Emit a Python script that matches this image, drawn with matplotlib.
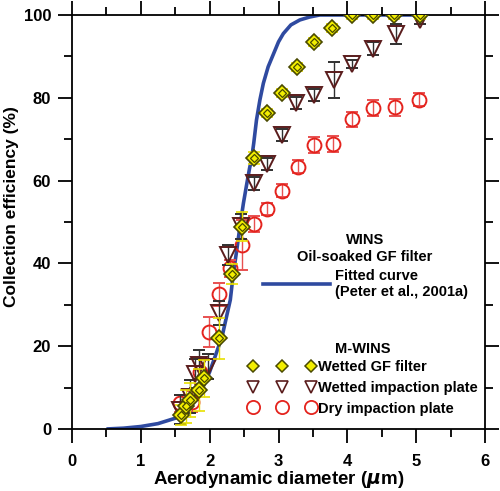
import matplotlib
matplotlib.use("Agg")
import matplotlib.pyplot as plt
from matplotlib.lines import Line2D

plt.rcParams['font.family'] = ['Liberation Sans', 'DejaVu Sans']
plt.rcParams['font.weight'] = 'bold'

# fitted curve, WINS oil-soaked GF filter
fit_x = [0.50, 0.75, 1.00, 1.25, 1.50, 1.70, 1.86, 2.00, 2.10, 2.18, 2.25, 2.30,
         2.34, 2.40, 2.44, 2.49, 2.54, 2.58, 2.61, 2.64, 2.68, 2.73, 2.78, 2.85,
         2.93, 3.00, 3.07, 3.18, 3.31, 3.45, 3.60, 4.00, 4.50, 5.00]
fit_y = [0.0, 0.2, 0.6, 1.3, 2.6, 5.0, 8.5, 13.8, 18.5, 22.3, 27.5, 31.2,
         37.0, 44.0, 48.9, 54.5, 59.3, 63.0, 65.4, 69.0, 74.6, 79.5, 83.5, 87.5,
         90.7, 93.5, 95.5, 97.6, 98.8, 99.5, 100.0, 100.0, 100.0, 100.0]

# M-WINS, wetted GF filter
gf_x = [1.59, 1.66, 1.72, 1.84, 1.92, 2.13, 2.32, 2.47, 2.64, 2.84, 3.05, 3.27,
        3.51, 3.78, 4.07, 4.38, 4.68, 5.05]
gf_y = [3.4, 5.5, 7.0, 9.4, 12.2, 21.9, 37.4, 48.9, 65.4, 76.3, 81.1, 87.5,
        93.5, 96.8, 100.0, 100.0, 100.0, 100.0]
gf_err = [2.5, 4.0, 4.0, 5.0, 4.5, 5.0, 2.5, 3.6, 1.5, 1.0, 1.0, 1.0,
          1.0, 1.0, 1.0, 1.0, 1.0, 1.0]

# M-WINS, wetted impaction plate
wi_x = [1.57, 1.72, 1.79, 1.85, 1.98, 2.13, 2.27, 2.45, 2.65, 2.83, 3.05, 3.26,
        3.51, 3.80, 4.07, 4.37, 4.71, 5.05]
wi_y = [4.6, 7.8, 13.4, 15.5, 15.0, 28.0, 42.0, 49.0, 59.3, 64.0, 71.0, 78.8,
        80.7, 84.3, 88.1, 91.9, 95.5, 98.8]
wi_err = [3.5, 4.0, 3.5, 3.5, 3.0, 3.0, 2.5, 3.0, 1.5, 1.5, 1.5, 1.5,
          1.5, 4.4, 1.0, 1.5, 2.4, 1.0]

# M-WINS, dry impaction plate
di_x = [1.57, 1.74, 1.86, 1.99, 2.13, 2.30, 2.47, 2.65, 2.84, 3.05, 3.28, 3.52,
        3.79, 4.07, 4.38, 4.69, 5.04]
di_y = [6.2, 6.6, 13.8, 23.5, 32.5, 38.8, 44.5, 49.5, 53.1, 57.6, 63.4, 68.6,
        68.8, 74.8, 77.5, 77.7, 79.5]
di_err = [2.0, 2.5, 3.0, 3.6, 2.8, 2.0, 6.0, 2.0, 1.5, 1.5, 1.5, 2.0,
          2.0, 1.8, 2.0, 2.0, 1.6]

blue = '#2f4aa0'
yellow = '#f2ee00'
olive = '#4a4a00'
maroon = '#5a1c1c'
red = '#e4231d'

fig = plt.figure(figsize=(5.0, 4.91), dpi=100)
ax = fig.add_axes([0.144, 0.1263, 0.826, 0.8432])

ax.plot(fit_x, fit_y, color=blue, lw=2.6, zorder=2, solid_capstyle='butt')

ax.errorbar(di_x, di_y, yerr=di_err, fmt='o', ms=10, mfc='none', mec=red, mew=1.4,
            ecolor='#e85050', elinewidth=1.0, capsize=4.5, capthick=1.0, zorder=3)
ax.errorbar(wi_x, wi_y, yerr=wi_err, fmt='v', ms=11, mfc='none', mec=maroon, mew=1.4,
            ecolor='#303030', elinewidth=1.0, capsize=4.5, capthick=1.0, zorder=4)
ax.errorbar(gf_x, gf_y, yerr=gf_err, fmt='D', ms=8.5, mfc=yellow, mec=olive, mew=1.2,
            ecolor='#e8e000', elinewidth=1.0, capsize=4.5, capthick=1.0, zorder=5)
ax.plot(gf_x, gf_y, 'D', ms=4.5, mfc=yellow, mec=olive, mew=0.9, zorder=6)

ax.set_xlim(0, 6)
ax.set_ylim(0, 100)
ax.set_xticks(range(0, 7))
ax.set_xticks([0.5 + i for i in range(6)], minor=True)
ax.set_yticks(range(0, 101, 20))
ax.set_yticks(range(10, 100, 20), minor=True)
ax.tick_params(which='both', direction='out', top=True, right=True, width=1.3,
               labelsize=12)
ax.tick_params(which='major', length=10)
ax.tick_params(which='minor', length=5.5)
ax.tick_params(axis='x', pad=8)
ax.tick_params(axis='y', pad=5)
for s in ax.spines.values():
    s.set_linewidth(1.3)
for lab in ax.get_xticklabels() + ax.get_yticklabels():
    lab.set_fontweight('bold')

ax.set_xlabel('Aerodynamic diameter ($\\mu$m)', fontsize=13.5, fontweight='bold', labelpad=0)
ax.set_ylabel('Collection efficiency (%)', fontsize=12.5, fontweight='bold')
ax.yaxis.set_label_coords(-0.128, 0.538)

ax.text(0.709, 0.457, 'WINS', transform=ax.transAxes, ha='center', va='center',
        fontsize=10.5, fontweight='bold')
ax.text(0.709, 0.415, 'Oil-soaked GF filter', transform=ax.transAxes, ha='center',
        va='center', fontsize=10.5, fontweight='bold')
ax.text(0.705, 0.193, 'M-WINS', transform=ax.transAxes, ha='center', va='center',
        fontsize=10.5, fontweight='bold')

h_fit = Line2D([], [], color=blue, lw=2.6)
leg1 = ax.legend([h_fit], ['Fitted curve\n(Peter et al., 2001a)'], loc='center left',
                 bbox_to_anchor=(0.462, 0.35), frameon=False, handlelength=4.6,
                 handletextpad=0.36, borderpad=0, borderaxespad=0,
                 prop={'size': 10.5, 'weight': 'bold'})
ax.add_artist(leg1)

h_gf = Line2D([], [], ls='none', marker='D', ms=6.5, mfc=yellow, mec=olive, mew=1.1)
h_wi = Line2D([], [], ls='none', marker='v', ms=8, mfc='none', mec=maroon, mew=1.2)
h_di = Line2D([], [], ls='none', marker='o', ms=9.5, mfc='none', mec=red, mew=1.3)
leg2 = ax.legend([h_gf, h_wi, h_di],
                 ['Wetted GF filter', 'Wetted impaction plate', 'Dry impaction plate'],
                 loc='center left', bbox_to_anchor=(0.428, 0.099), frameon=False,
                 numpoints=3, handlelength=4.6, handletextpad=0.15, labelspacing=0.45,
                 borderpad=0, borderaxespad=0, prop={'size': 10.5, 'weight': 'bold'})

fig.savefig('out.png', dpi=100)
